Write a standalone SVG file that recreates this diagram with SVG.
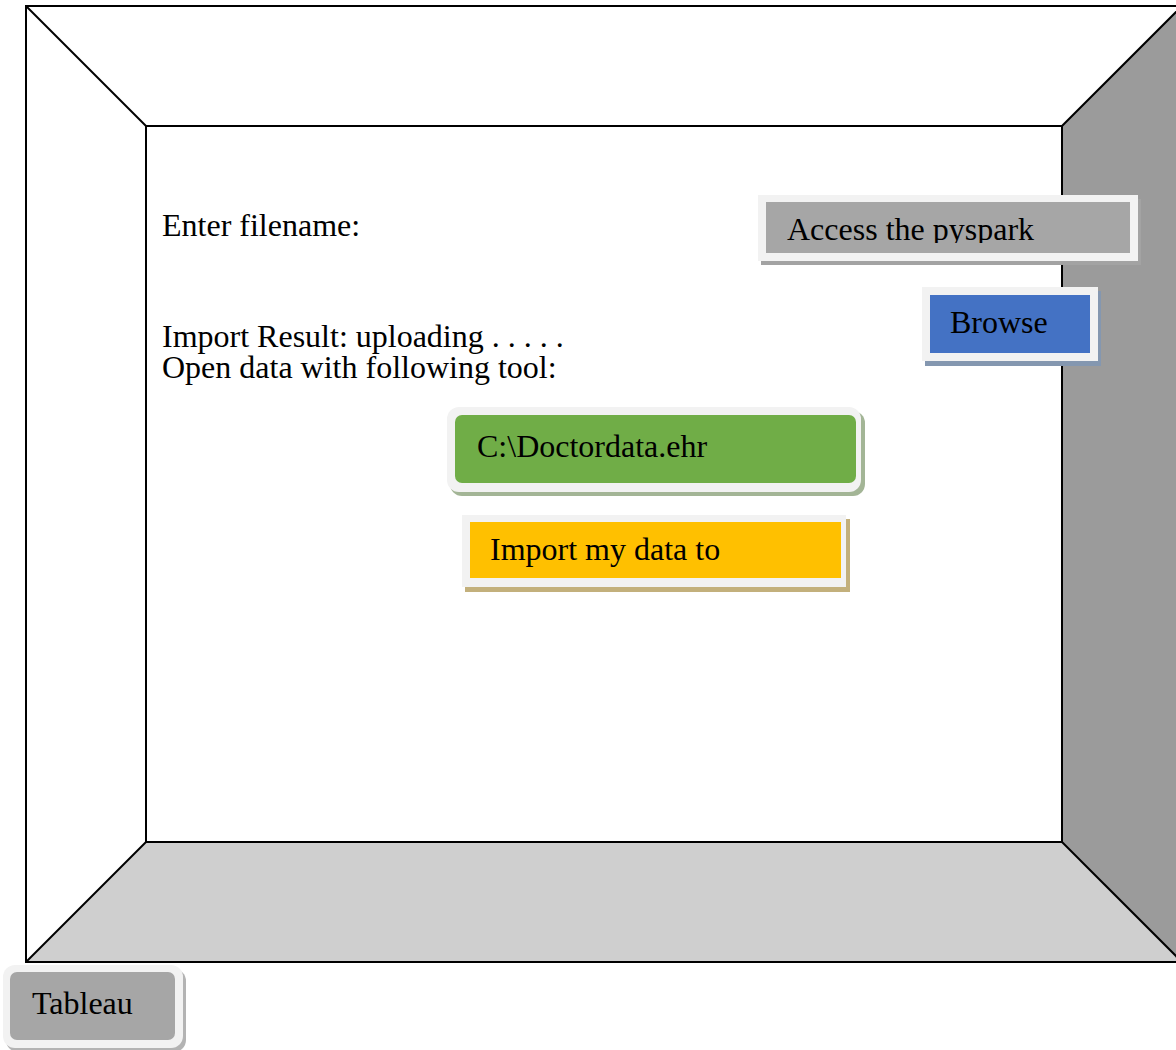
<svg xmlns="http://www.w3.org/2000/svg" width="1176" height="1050" viewBox="0 0 1176 1050">
  <style>
    .edge { stroke: #000; stroke-width: 2; fill: none; }
    .lbl { font-family: "Liberation Serif", "Times New Roman", serif; font-size: 32px; fill: #000; }
    .rim { fill: #f2f2f2; }
  </style>
  <defs>
    <clipPath id="pysparkClip">
      <rect x="766" y="202" width="364" height="41"/>
    </clipPath>
  </defs>

  <!-- room frame: back wall, floor and right wall -->
  <g id="frame">
    <rect x="26" y="6" width="1156" height="956" fill="#fff"/>
    <polygon points="1062,126 1182,6 1182,962 1062,842" fill="#9b9b9b"/>
    <polygon points="146,842 1062,842 1182,962 26,962" fill="#cfcfcf"/>
    <rect class="edge" x="26" y="6" width="1156" height="956"/>
    <rect class="edge" x="146" y="126" width="916" height="716"/>
    <line class="edge" x1="26" y1="6" x2="146" y2="126"/>
    <line class="edge" x1="1182" y1="6" x2="1062" y2="126"/>
    <line class="edge" x1="26" y1="962" x2="146" y2="842"/>
    <line class="edge" x1="1182" y1="962" x2="1062" y2="842"/>
  </g>

  <!-- plain labels on the back wall -->
  <g id="labels">
    <text class="lbl" x="162" y="236">Enter filename:</text>
    <text class="lbl" x="162" y="347">Import Result: uploading . . . . .</text>
    <text class="lbl" x="162" y="378">Open data with following tool:</text>
  </g>

  <g id="connectors"/>

  <g id="btn-pyspark">
    <rect x="761" y="199" width="380" height="66" fill="#a3a3a3"/>
    <rect class="rim" x="758" y="195" width="380" height="66"/>
    <rect x="766" y="202" width="364" height="51" fill="#a6a6a6"/>
    <text class="lbl" x="787" y="240" clip-path="url(#pysparkClip)">Access the pyspark</text>
  </g>

  <g id="btn-browse">
    <rect x="925" y="291" width="176" height="75" fill="#8497b0"/>
    <rect class="rim" x="922" y="287" width="176" height="74"/>
    <rect x="930" y="295" width="160" height="58" fill="#4472c4"/>
    <text class="lbl" x="950" y="333">Browse</text>
  </g>

  <g id="btn-path">
    <rect x="450" y="411" width="415" height="85" rx="12" fill="#a3b596"/>
    <rect class="rim" x="447" y="407" width="414" height="85" rx="12"/>
    <rect x="455" y="415" width="401" height="68" rx="7" fill="#70ad47"/>
    <text class="lbl" x="477" y="457">C:\Doctordata.ehr</text>
  </g>

  <g id="btn-import">
    <rect x="465" y="519" width="385" height="73" fill="#c3b07c"/>
    <rect class="rim" x="462" y="515" width="384" height="72"/>
    <rect x="470" y="522" width="371" height="56" fill="#ffc000"/>
    <text class="lbl" x="490" y="560">Import my data to</text>
  </g>

  <g id="btn-tableau">
    <rect x="6" y="969" width="180" height="83" rx="12" fill="#b3b3b3"/>
    <rect class="rim" x="3" y="965" width="180" height="83" rx="12"/>
    <rect x="10" y="972" width="165" height="68" rx="7" fill="#a6a6a6"/>
    <text class="lbl" x="32" y="1014">Tableau</text>
  </g>
</svg>
